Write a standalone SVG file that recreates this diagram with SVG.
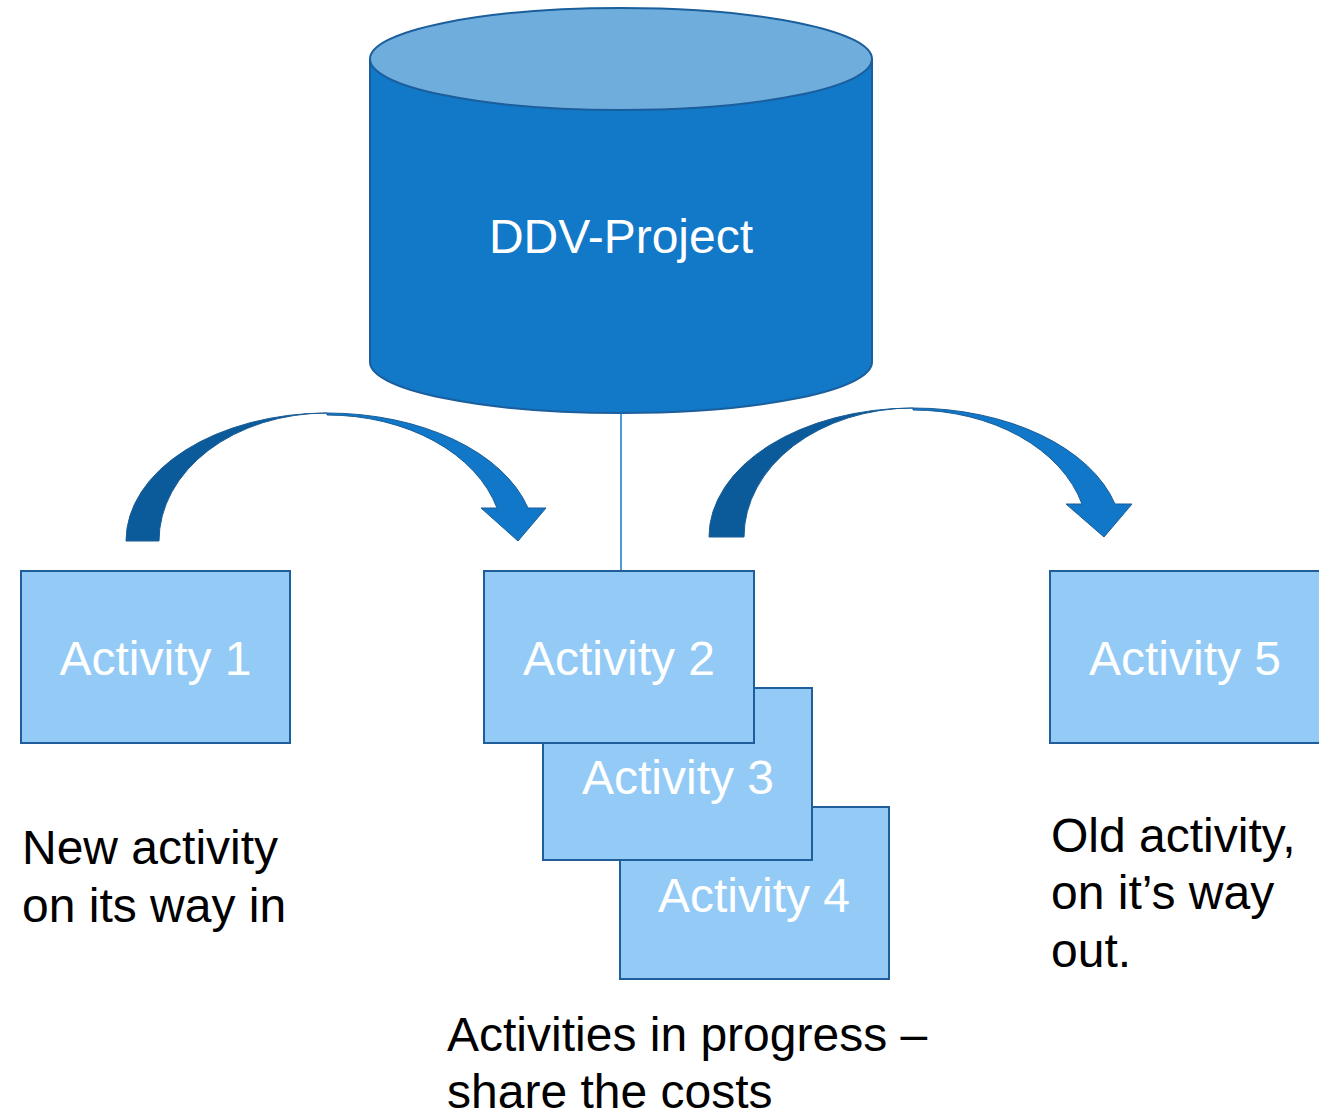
<svg xmlns="http://www.w3.org/2000/svg" width="1319" height="1110" viewBox="0 0 1319 1110">
<style>
.act{fill:#93CBF6;stroke:#1F5E9B;stroke-width:2}
.nt{font-family:"Liberation Sans",Arial,sans-serif;font-size:48px;fill:#FFFFFF;text-anchor:middle}
.lb{font-family:"Liberation Sans",Arial,sans-serif;font-size:48px;fill:#000000}
.dk{fill:#0B5A9A;stroke:#1A5C96;stroke-width:1}
.lt{fill:#1177C8;stroke:#1A5C96;stroke-width:1}
</style>
<rect width="1319" height="1110" fill="#FFFFFF"/>
<g id="ddv-project">
<path d="M370,59 L370,362 A251,51 0 0 0 872,362 L872,59 Z" fill="#1278C8" stroke="#1B5E9C" stroke-width="2"/>
<ellipse cx="621" cy="59" rx="251" ry="51" fill="#6FADDD" stroke="#1B5E9C" stroke-width="2"/>
<text class="nt" x="621" y="253">DDV-Project</text>
</g>
<g id="connectors">
<line x1="621" y1="413" x2="621" y2="571" stroke="#1278C8" stroke-width="1.5"/>
<g id="arrow-in">
<path class="dk" d="M126,541 A201,128 0 0 1 327,413 A168,128 0 0 0 159,541 Z"/>
<path class="lt" d="M327,413 A208,128 0 0 1 528,508 L546,508 L518,541 L481,508 L497,508 A176,126 0 0 0 327,415 Z"/>
</g>
<g id="arrow-out">
<path class="dk" d="M709,537 A204,129 0 0 1 913,408 A169,129 0 0 0 744,537 Z"/>
<path class="lt" d="M913,408 A209,129 0 0 1 1115,504 L1132,504 L1104,537 L1066,504 L1082,504 A175,127 0 0 0 913,410 Z"/>
</g>
</g>
<g id="activity-1">
<rect class="act" x="21" y="571" width="269" height="172"/>
<text class="nt" x="155.5" y="675">Activity 1</text>
</g>
<g id="activity-4">
<rect class="act" x="620" y="807" width="269" height="172"/>
<text class="nt" x="754" y="912">Activity 4</text>
</g>
<g id="activity-3">
<rect class="act" x="543" y="688" width="269" height="172"/>
<text class="nt" x="678" y="794">Activity 3</text>
</g>
<g id="activity-2">
<rect class="act" x="484" y="571" width="270" height="172"/>
<text class="nt" x="619" y="675">Activity 2</text>
</g>
<g id="activity-5">
<rect class="act" x="1050" y="571" width="270" height="172"/>
<text class="nt" x="1185" y="675">Activity 5</text>
</g>
<g id="labels">
<text class="lb" x="22" y="864">New activity</text>
<text class="lb" x="22" y="922">on its way in</text>
<text class="lb" x="1051" y="852">Old activity,</text>
<text class="lb" x="1051" y="909">on it’s way</text>
<text class="lb" x="1051" y="967">out.</text>
<text class="lb" x="447" y="1051">Activities in progress –</text>
<text class="lb" x="447" y="1108">share the costs</text>
</g>
</svg>
